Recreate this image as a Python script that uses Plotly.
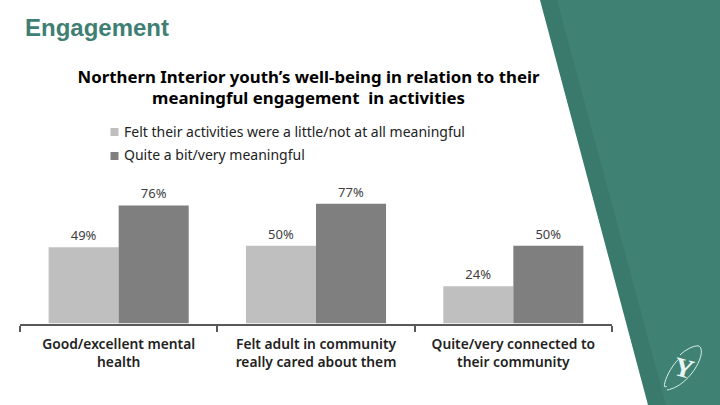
import plotly.graph_objects as go

categories = ["Good/excellent mental<br>health", "Felt adult in community<br>really cared about them", "Quite/very connected to<br>their community"]
series_names = ["Felt their activities were a little/not at all meaningful", "Quite a bit/very meaningful"]
low_values = [49, 50, 24]
high_values = [76, 77, 50]
low_labels = ["49%", "50%", "24%"]
high_labels = ["76%", "77%", "50%"]
LIGHT = "#BFBFBF"
DARK = "#7F7F7F"
TEAL = "#3F8274"
TEAL_D = "#3A7A6C"
FONT = "Noto Sans"
W, H = 720, 405
def px(x): return x / W
def py(y): return 1 - y / H

fig = go.Figure()
for name, vals, labs, col in [(series_names[0], low_values, low_labels, LIGHT), (series_names[1], high_values, high_labels, DARK)]:
    fig.add_bar(x=categories, y=vals, name=name, text=labs, textposition="outside", cliponaxis=False,
                marker=dict(color=col, line=dict(width=0)),
                textfont=dict(family=FONT, size=13, color="#404040"))

shapes = [
    dict(type="path", xref="paper", yref="paper", layer="below", line=dict(width=0), fillcolor=TEAL_D,
         path=f"M{px(540)},{py(0)} L{px(720)},{py(0)} L{px(720)},{py(405)} L{px(648)},{py(405)} Z"),
    dict(type="path", xref="paper", yref="paper", layer="below", line=dict(width=0), fillcolor=TEAL,
         path=f"M{px(557)},{py(0)} L{px(720)},{py(0)} L{px(720)},{py(405)} L{px(666)},{py(405)} Z"),
    dict(type="rect", xref="paper", yref="paper", line=dict(width=0), fillcolor=LIGHT,
         x0=px(110.5), x1=px(118.5), y0=py(136), y1=py(128)),
    dict(type="rect", xref="paper", yref="paper", line=dict(width=0), fillcolor=DARK,
         x0=px(110.5), x1=px(118.5), y0=py(160), y1=py(152)),
    dict(type="path", xref="paper", yref="paper", line=dict(width=1, color="#DDEFEA"),
         path=f"M{px(667)},{py(386)} C{px(660)},{py(392)} {px(668)},{py(368)} {px(680)},{py(358)} "),
    dict(type="path", xref="paper", yref="paper", line=dict(width=1, color="#DDEFEA"),
         path=f"M{px(667)},{py(390)} C{px(690)},{py(386)} {px(708)},{py(352)} {px(699)},{py(346)} C{px(694)},{py(345)} {px(685)},{py(350)} {px(680)},{py(355)}"),
]

annotations = [
    dict(text="Engagement", x=px(22.5), y=py(28), xanchor="left", yanchor="middle", showarrow=False,
         font=dict(family="Liberation Sans", size=24, color="#3F7F73", weight="bold")),
    dict(text=series_names[0], x=px(122), y=py(131), xanchor="left", yanchor="middle", showarrow=False,
         font=dict(family=FONT, size=14, color="#222222")),
    dict(text=series_names[1], x=px(122), y=py(155), xanchor="left", yanchor="middle", showarrow=False,
         font=dict(family=FONT, size=14, color="#222222")),
    dict(text="<b>Y</b>", x=px(683.5), y=py(368), xanchor="center", yanchor="middle", showarrow=False, textangle=15,
         font=dict(family="Liberation Serif", size=27, color="#EAF5F2")),
]
for a in annotations:
    a.update(xref="paper", yref="paper")

fig.update_layout(
    width=W, height=H, margin=dict(l=0, r=0, t=0, b=0), autosize=False,
    paper_bgcolor="white", plot_bgcolor="rgba(0,0,0,0)",
    barmode="group", bargap=0.29, bargroupgap=0.0, showlegend=False,
    title=dict(text="Northern Interior youth’s well-being in relation to their<br>meaningful engagement  in activities",
               x=px(308.5), xref="paper", xanchor="center", y=py(82.5), yref="paper", yanchor="middle",
               font=dict(family=FONT, size=16.8, color="#000000", weight="bold")),
    shapes=shapes, annotations=annotations,
    xaxis=dict(domain=[px(20), px(612)], tickson="boundaries", ticks="outside", ticklen=6, tickwidth=2, tickcolor="#595959",
               showline=True, linecolor="#595959", linewidth=2, ticklabelstandoff=7,
               tickfont=dict(family=FONT, size=13.8, color="#222222", weight=600), showgrid=False),
    yaxis=dict(domain=[py(323.5), py(165)], range=[0, 102], visible=False, showgrid=False, zeroline=False),
)
fig.write_html("out.html", post_script="document.body.style.margin='0';", config=dict(displayModeBar=False))
